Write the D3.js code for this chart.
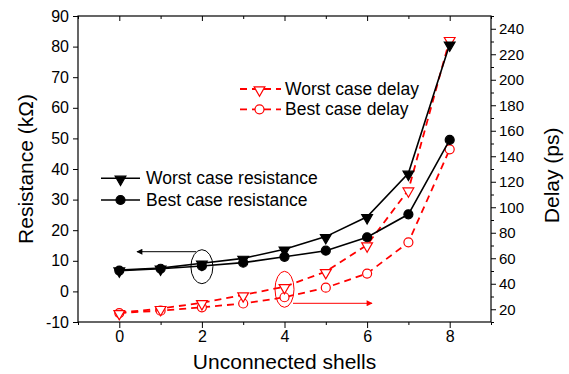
<!DOCTYPE html>
<html>
<head>
<meta charset="utf-8">
<script src="https://cdn.jsdelivr.net/npm/d3@7"></script>
<style>
  body { margin: 0; background: #fff; }
  text { font-family: Arial, "Liberation Sans", sans-serif; }
</style>
</head>
<body>
<svg></svg>
<script>
var width = 569;
var height = 374;

// data
var shells = [0, 1, 2, 3, 4, 5, 6, 7, 8];
var worstResistance = [7.0, 7.6, 9.2, 10.8, 13.8, 17.9, 24.4, 38.6, 80.8];
var bestResistance = [6.8, 7.4, 8.3, 9.4, 11.3, 13.3, 17.7, 25.2, 49.5];
var worstDelay = [17.3, 20.5, 25.1, 31.2, 37.7, 49.5, 70.4, 113.5, 231.5];
var bestDelay = [17.0, 18.9, 21.5, 24.5, 29.4, 36.9, 48.0, 72.5, 145.4];

var xTicks = [0, 2, 4, 6, 8];
var xMinor = [-1, 1, 3, 5, 7, 9];
var leftTicks = [-10, 0, 10, 20, 30, 40, 50, 60, 70, 80, 90];
var rightTicks = [20, 40, 60, 80, 100, 120, 140, 160, 180, 200, 220, 240];
var rightMinor = [10, 30, 50, 70, 90, 110, 130, 150, 170, 190, 210, 230, 250];

var svg = d3.select('svg')
    .attr('width', width)
    .attr('height', height);

var x = d3.scaleLinear().domain([-1, 9]).range([78, 491]);
var yL = d3.scaleLinear().domain([-10, 90]).range([322, 16]);
var yR = d3.scaleLinear().domain([10, 250]).range([322, 16]);

var red = '#ff0000';
var plain = function (d) { return String(d); };

// defs for arrowheads
var defs = svg.append('defs');
function arrowHead(id, color) {
    defs.append('marker')
        .attr('id', id)
        .attr('viewBox', '0 0 10 10')
        .attr('refX', 9).attr('refY', 5)
        .attr('markerWidth', 8).attr('markerHeight', 6)
        .attr('markerUnits', 'userSpaceOnUse')
        .attr('orient', 'auto')
        .append('path')
        .attr('d', 'M0,0 L10,5 L0,10 Z')
        .attr('fill', color);
}
arrowHead('arrBlack', '#000');
arrowHead('arrRed', red);

// axes
function styleAxis(g, size) {
    g.select('.domain').remove();
    g.selectAll('line').attr('stroke', '#000').attr('stroke-width', 1);
    g.selectAll('text').attr('font-size', size).attr('fill', '#000');
}

svg.append('g').attr('transform', 'translate(0,322)')
    .call(d3.axisBottom(x).tickValues(xTicks).tickSize(6).tickPadding(3).tickFormat(plain))
    .call(styleAxis, 16);
svg.append('g').attr('transform', 'translate(0,322)')
    .call(d3.axisBottom(x).tickValues(xMinor).tickSize(3).tickFormat(''))
    .call(styleAxis, 16);
svg.append('g').attr('transform', 'translate(0,16)')
    .call(d3.axisTop(x).tickValues(xTicks).tickSize(-5).tickFormat(''))
    .call(styleAxis, 16);
svg.append('g').attr('transform', 'translate(0,16)')
    .call(d3.axisTop(x).tickValues(xMinor).tickSize(-3).tickFormat(''))
    .call(styleAxis, 16);
svg.append('g').attr('transform', 'translate(78,0)')
    .call(d3.axisLeft(yL).tickValues(leftTicks).tickSize(5).tickPadding(4).tickFormat(plain))
    .call(styleAxis, 16);
svg.append('g').attr('transform', 'translate(491,0)')
    .call(d3.axisRight(yR).tickValues(rightTicks).tickSize(5).tickPadding(3).tickFormat(plain))
    .call(styleAxis, 15);
svg.append('g').attr('transform', 'translate(491,0)')
    .call(d3.axisRight(yR).tickValues(rightMinor).tickSize(3).tickFormat(''))
    .call(styleAxis, 15);

// frame
svg.append('rect')
    .attr('x', x(-1)).attr('y', yL(90))
    .attr('width', x(9) - x(-1)).attr('height', yL(-10) - yL(90))
    .attr('fill', 'none').attr('stroke', '#000').attr('stroke-width', 1.2);

// titles
svg.append('text')
    .attr('x', x(4)).attr('y', 369)
    .attr('text-anchor', 'middle').attr('font-size', 21)
    .text('Unconnected shells');
svg.append('text')
    .attr('transform', 'translate(33,' + yL(40) + ') rotate(-90)')
    .attr('text-anchor', 'middle').attr('font-size', 21)
    .text('Resistance (k\u03a9)');
svg.append('text')
    .attr('transform', 'translate(559,' + yR(125) + ') rotate(-90)')
    .attr('text-anchor', 'middle').attr('font-size', 21)
    .text('Delay (ps)');

// symbols
var triDown = d3.symbol().type(d3.symbolTriangle).size(50);
function drawTri(g, cx, cy, fill, stroke) {
    g.append('path')
        .attr('d', triDown())
        .attr('transform', 'translate(' + cx + ',' + (cy + 1) + ') rotate(180)')
        .attr('fill', fill).attr('stroke', stroke).attr('stroke-width', 1.2);
}
function drawCircle(g, cx, cy, fill, stroke) {
    g.append('circle')
        .attr('cx', cx).attr('cy', cy).attr('r', 4.5)
        .attr('fill', fill).attr('stroke', stroke).attr('stroke-width', 1.2);
}

function series(values, yScale, color, dashed, marker, fill) {
    var line = d3.line()
        .x(function (d, i) { return x(shells[i]); })
        .y(function (d) { return yScale(d); });
    svg.append('path')
        .datum(values)
        .attr('d', line)
        .attr('fill', 'none')
        .attr('stroke', color)
        .attr('stroke-width', dashed ? 1.8 : 1.6)
        .attr('stroke-dasharray', dashed ? '7,5' : null);
    var g = svg.append('g');
    values.forEach(function (d, i) {
        marker(g, x(shells[i]), yScale(d), fill, color);
    });
}

series(bestDelay, yR, red, true, drawCircle, '#fff');
series(worstDelay, yR, red, true, drawTri, '#fff');
series(bestResistance, yL, '#000', false, drawCircle, '#000');
series(worstResistance, yL, '#000', false, drawTri, '#000');

// annotation ellipses and arrows
svg.append('ellipse')
    .attr('cx', x(2)).attr('cy', 266.7).attr('rx', 11).attr('ry', 17)
    .attr('fill', 'none').attr('stroke', '#000').attr('stroke-width', 1);
svg.append('line')
    .attr('x1', 196).attr('y1', 251.7).attr('x2', 137).attr('y2', 251.7)
    .attr('stroke', '#000').attr('stroke-width', 1)
    .attr('marker-end', 'url(#arrBlack)');

svg.append('ellipse')
    .attr('cx', x(4)).attr('cy', 289.3).attr('rx', 9.5).attr('ry', 18)
    .attr('fill', 'none').attr('stroke', red).attr('stroke-width', 1);
svg.append('line')
    .attr('x1', 293).attr('y1', 303.3).attr('x2', 372).attr('y2', 303.3)
    .attr('stroke', red).attr('stroke-width', 1)
    .attr('marker-end', 'url(#arrRed)');

// legends
var legBlack = [
    { label: 'Worst case resistance', y: 178.3, marker: drawTri },
    { label: 'Best case resistance', y: 200, marker: drawCircle }
];
legBlack.forEach(function (d) {
    var g = svg.append('g');
    g.append('line')
        .attr('x1', 101).attr('x2', 140).attr('y1', d.y).attr('y2', d.y)
        .attr('stroke', '#000').attr('stroke-width', 1.6);
    d.marker(g, 120.5, d.y, '#000', '#000');
    g.append('text')
        .attr('x', 146).attr('y', d.y + 6)
        .attr('font-size', 17.5)
        .text(d.label);
});

var legRed = [
    { label: 'Worst case delay', y: 89, marker: drawTri },
    { label: 'Best case delay', y: 109.3, marker: drawCircle }
];
legRed.forEach(function (d) {
    var g = svg.append('g');
    g.append('line')
        .attr('x1', 240).attr('x2', 281).attr('y1', d.y).attr('y2', d.y)
        .attr('stroke', red).attr('stroke-width', 1.8)
        .attr('stroke-dasharray', '7,5');
    d.marker(g, 259.5, d.y, '#fff', red);
    g.append('text')
        .attr('x', 285).attr('y', d.y + 6)
        .attr('font-size', 17.5)
        .text(d.label);
});
</script>
</body>
</html>
